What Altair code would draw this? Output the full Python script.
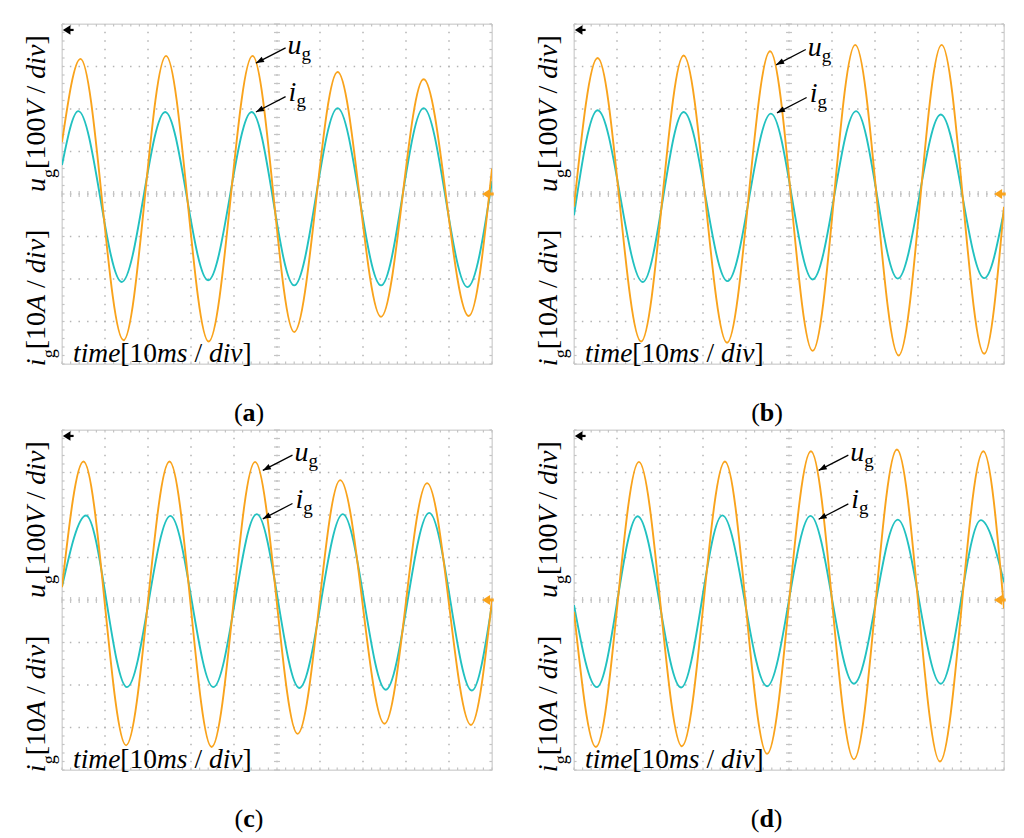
import altair as alt
import pandas as pd

FONT = "Liberation Serif, Times New Roman, serif"
ORANGE = "#F9A31C"
CYAN = "#22C1C0"
DOT = "#B4B4B4"
TICK = "#C4C4C4"
FRAME = "#D2D2D2"

W, H = 430, 340            # plot area of one panel (px)
NX, NY = 10, 8             # scope divisions
PXX, PXY = W / NX, H / NY  # px per division

# ---------------- traces: extrema (divisions) ----------------
# panel (a)
A_U_T = [0.0, 0.43, 1.43, 2.42, 3.41, 4.43, 5.40, 6.41, 7.42, 8.41, 9.46, 10.0]
A_U_V = [1.22, 3.18, -3.44, 3.25, -3.47, 3.25, -3.25, 2.87, -2.89, 2.70, -2.87, 0.6]
A_I_T = [0.0, 0.38, 1.39, 2.40, 3.40, 4.41, 5.40, 6.41, 7.42, 8.41, 9.43, 10.0]
A_I_V = [0.68, 1.95, -2.07, 1.93, -2.03, 1.93, -2.15, 2.02, -2.15, 2.02, -2.19, 0.3]
# panel (b)
B_U_T = [0.0, 0.55, 1.56, 2.55, 3.56, 4.56, 5.55, 6.54, 7.55, 8.55, 9.54, 10.0]
B_U_V = [-0.3, 3.20, -3.47, 3.26, -3.50, 3.36, -3.69, 3.51, -3.80, 3.51, -3.76, -0.3]
B_I_T = [0.0, 0.55, 1.60, 2.55, 3.57, 4.58, 5.55, 6.56, 7.53, 8.53, 9.54, 10.0]
B_I_V = [-0.5, 1.97, -2.07, 1.93, -2.05, 1.89, -2.01, 1.95, -1.99, 1.87, -1.98, -0.4]
# panel (c)
C_U_T = [0.0, 0.50, 1.49, 2.50, 3.48, 4.49, 5.48, 6.47, 7.50, 8.49, 9.51, 10.0]
C_U_V = [0.3, 3.26, -3.42, 3.26, -3.46, 3.25, -3.15, 2.82, -2.91, 2.75, -2.94, 0.0]
C_I_T = [0.0, 0.56, 1.51, 2.52, 3.52, 4.53, 5.52, 6.53, 7.53, 8.54, 9.53, 10.0]
C_I_V = [0.31, 1.99, -2.05, 1.98, -2.05, 2.02, -2.07, 2.02, -2.11, 2.05, -2.13, -0.1]
# panel (d)
D_U_T = [0.0, 0.51, 1.51, 2.51, 3.51, 4.49, 5.51, 6.51, 7.51, 8.51, 9.52, 10.0]
D_U_V = [-0.28, -3.46, 3.25, -3.44, 3.26, -3.62, 3.50, -3.75, 3.54, -3.80, 3.50, -0.2]
D_I_T = [0.0, 0.53, 1.48, 2.49, 3.45, 4.49, 5.50, 6.51, 7.53, 8.53, 9.46, 10.0]
D_I_V = [-0.12, -2.05, 1.97, -2.06, 1.99, -2.03, 1.98, -1.97, 1.89, -1.97, 1.88, 0.42]

# arrow tips of the u_g / i_g annotations (divisions)
A_TIPS = [(4.51, 3.08), (4.51, 1.93)]
B_TIPS = [(4.70, 3.04), (4.72, 1.91)]
C_TIPS = [(4.67, 3.05), (4.67, 1.91)]
D_TIPS = [(5.69, 3.05), (5.69, 1.90)]

CAPTION_X = {"a": 4.35, "b": 4.49, "c": 4.35, "d": 4.48}

GRID_X = [1, 2, 3, 4, 5, 6, 7, 8, 9]
GRID_Y = [-3, -2, -1, 0, 1, 2, 3]
MINOR_X = [k / 5 for k in range(0, 51)]
MINOR_Y = [k / 5 for k in range(-20, 21)]

# ---------------- scales ----------------
XS = alt.Scale(domain=[0, NX], nice=False, zero=False)
YS = alt.Scale(domain=[-NY / 2, NY / 2], nice=False, zero=False)


def X(f):
    return alt.X(f, type="quantitative", scale=XS, axis=None)


def Y(f):
    return alt.Y(f, type="quantitative", scale=YS, axis=None)


# ---------------- Times-compatible advance widths (1/1000 em) ----------------
REG = {" ": 250, "/": 278, "[": 333, "]": 333, "(": 333, ")": 333, "g": 500}
REG.update({d: 500 for d in "0123456789"})
ITA = {"u": 500, "i": 278, "V": 611, "A": 611, "d": 500, "v": 444,
       "t": 278, "m": 722, "e": 444, "s": 389}
BLD = {"a": 500, "b": 556, "c": 444, "d": 556}
TABLE = {"r": REG, "i": ITA, "b": BLD}


def width(s, style, size):
    return sum(TABLE[style].get(c, 500) for c in s) * size / 1000.0


def pieces_rows(pieces, x0, y0, angle):
    """pieces: (text, style, size, drop_px). Returns text rows in division units."""
    rows = []
    pos = 0.0
    for text, style, size, drop in pieces:
        w = width(text, style, size)
        if text.strip():
            if angle == 0:
                rows.append(dict(x=x0 + pos / PXX, y=y0 - drop / PXY, text=text,
                                 size=size, angle=0, style=style))
            else:
                rows.append(dict(x=x0 + drop / PXX, y=y0 + pos / PXY, text=text,
                                 size=size, angle=270, style=style))
        pos += w
    return rows


LS = 28      # label font size
SUB = 18     # subscript size in side labels
U_LABEL = [("u", "i", LS, 0), ("g", "r", SUB, 10), ("[100", "r", LS, 0), ("V", "i", LS, 0),
           (" ", "r", LS, 0), ("/", "r", LS, 0), (" ", "r", LS, 0), ("div", "i", LS, 0),
           ("]", "r", LS, 0)]
I_LABEL = [("i", "i", LS, 0), ("g", "r", SUB, 10), ("[10", "r", LS, 0), ("A", "i", LS, 0),
           (" ", "r", LS, 0), ("/", "r", LS, 0), (" ", "r", LS, 0), ("div", "i", LS, 0),
           ("]", "r", LS, 0)]
TS = 27.5
TIME_LABEL = [("time", "i", TS, 0), ("[10", "r", TS, 0), ("ms", "i", TS, 0), (" ", "r", TS, 0),
              ("/", "r", TS, 0), (" ", "r", TS, 0), ("div", "i", TS, 0), ("]", "r", TS, 0)]

ARROW = "M0,0L-2,-0.75L-2,0.75Z"      # annotation arrow head, tip at origin, pointing +x
MARKER = "M0,0L-1.6,-1L-1.6,1Z"       # scope marker head
TAIL_DX, TAIL_DY = 0.69, 0.36         # tail offset from tip (divisions)


def text_layers(rows):
    df = pd.DataFrame(rows)
    layers = []
    for style in ["r", "i", "b"]:
        sub = df[df["style"] == style]
        if sub.empty:
            continue
        kw = dict(font=FONT, align="left", baseline="alphabetic", color="black")
        if style == "i":
            kw["fontStyle"] = "italic"
        if style == "b":
            kw["fontWeight"] = "bold"
        layers.append(
            alt.Chart(sub).mark_text(**kw).encode(
                x=X("x"), y=Y("y"), text=alt.Text("text:N"),
                size=alt.Size("size:Q", scale=None),
                angle=alt.Angle("angle:Q", scale=None),
            )
        )
    return layers


def panel(letter, ut, uv, it, iv, tips):
    layers = []
    # dotted graticule
    layers.append(alt.Chart(pd.DataFrame({"x": GRID_X})).mark_rule(
        color=DOT, strokeWidth=1.5, strokeDash=[1.5, PXY / 5 - 1.5], strokeDashOffset=0.75
    ).encode(x=X("x")))
    layers.append(alt.Chart(pd.DataFrame({"y": GRID_Y})).mark_rule(
        color=DOT, strokeWidth=1.5, strokeDash=[1.5, PXX / 5 - 1.5], strokeDashOffset=0.75
    ).encode(y=Y("y")))
    # frame
    layers.append(alt.Chart(pd.DataFrame({"x": [0, NX]})).mark_rule(
        color=FRAME, strokeWidth=1).encode(x=X("x")))
    layers.append(alt.Chart(pd.DataFrame({"y": [-NY / 2, NY / 2]})).mark_rule(
        color=FRAME, strokeWidth=1).encode(y=Y("y")))
    # minor ticks on centre lines and frame
    ticks = []
    for m in MINOR_X:
        ticks.append(dict(x=m, x2=m, y=-0.07, y2=0.07))
        ticks.append(dict(x=m, x2=m, y=NY / 2 - 0.06, y2=NY / 2))
        ticks.append(dict(x=m, x2=m, y=-NY / 2, y2=-NY / 2 + 0.06))
    for m in MINOR_Y:
        ticks.append(dict(x=NX / 2 - 0.07, x2=NX / 2 + 0.07, y=m, y2=m))
        ticks.append(dict(x=0, x2=0.06, y=m, y2=m))
        ticks.append(dict(x=NX - 0.06, x2=NX, y=m, y2=m))
    layers.append(alt.Chart(pd.DataFrame(ticks)).mark_rule(
        color=TICK, strokeWidth=1.2).encode(
        x=X("x"), x2=alt.X2("x2"), y=Y("y"), y2=alt.Y2("y2")))

    # traces
    layers.append(alt.Chart(pd.DataFrame({"t": it, "v": iv})).mark_line(
        color=CYAN, strokeWidth=1.9, interpolate="monotone", clip=True
    ).encode(x=X("t"), y=Y("v"), order="t:Q"))
    layers.append(alt.Chart(pd.DataFrame({"t": ut, "v": uv})).mark_line(
        color=ORANGE, strokeWidth=1.9, interpolate="monotone", clip=True
    ).encode(x=X("t"), y=Y("v"), order="t:Q"))

    # scope markers: channel reference (black, top-left) and trigger level (orange, right)
    layers.append(alt.Chart(pd.DataFrame({"x": [0.12], "x2": [0.27], "y": [3.86]})).mark_rule(
        color="black", strokeWidth=2.2).encode(x=X("x"), x2=alt.X2("x2"), y=Y("y")))
    layers.append(alt.Chart(pd.DataFrame({"x": [0.02], "y": [3.86]})).mark_point(
        shape=MARKER, filled=True, color="black", opacity=1, size=90, angle=180, strokeWidth=0
    ).encode(x=X("x"), y=Y("y")))
    layers.append(alt.Chart(pd.DataFrame({"x": [9.88], "x2": [10.04], "y": [0.0]})).mark_rule(
        color=ORANGE, strokeWidth=3).encode(x=X("x"), x2=alt.X2("x2"), y=Y("y")))
    layers.append(alt.Chart(pd.DataFrame({"x": [9.77], "y": [0.0]})).mark_point(
        shape=MARKER, filled=True, color=ORANGE, opacity=1, size=100, angle=180, strokeWidth=0
    ).encode(x=X("x"), y=Y("y")))

    # annotation arrows
    arr = pd.DataFrame([dict(x=tx + TAIL_DX, y=ty + TAIL_DY, x2=tx, y2=ty) for tx, ty in tips])
    layers.append(alt.Chart(arr).mark_rule(color="black", strokeWidth=1.3).encode(
        x=X("x"), x2=alt.X2("x2"), y=Y("y"), y2=alt.Y2("y2")))
    layers.append(alt.Chart(pd.DataFrame([dict(x=tx, y=ty) for tx, ty in tips])).mark_point(
        shape=ARROW, filled=True, color="black", opacity=1, size=64, angle=152.7, strokeWidth=0
    ).encode(x=X("x"), y=Y("y")))

    rows = []
    (utx, uty), (itx, ity) = tips
    rows += pieces_rows([("u", "i", 28, 0), ("g", "r", 19, 6)],
                        utx + TAIL_DX + 2 / PXX, uty + TAIL_DY - 6 / PXY, 0)
    rows += pieces_rows([("i", "i", 28, 0), ("g", "r", 19, 6)],
                        itx + TAIL_DX + 3 / PXX, ity + TAIL_DY - 4 / PXY, 0)
    # side labels (rotated) and time label
    rows += pieces_rows(U_LABEL, -17 / PXX, 0.05, 270)
    rows += pieces_rows(I_LABEL, -17 / PXX, -4.05, 270)
    rows += pieces_rows(TIME_LABEL, 11 / PXX, -3.95, 0)
    # caption (a)/(b)/...
    cap = [("(", "r", 26, 0), (letter, "b", 26, 0), (")", "r", 26, 0)]
    cw = sum(width(t, s, z) for t, s, z, _ in cap)
    rows += pieces_rows(cap, CAPTION_X[letter] - cw / 2 / PXX, -5.34, 0)
    layers += text_layers(rows)

    return alt.layer(*layers).properties(width=W, height=H)


pa = panel("a", A_U_T, A_U_V, A_I_T, A_I_V, A_TIPS)
pb = panel("b", B_U_T, B_U_V, B_I_T, B_I_V, B_TIPS)
pc = panel("c", C_U_T, C_U_V, C_I_T, C_I_V, C_TIPS)
pd_ = panel("d", D_U_T, D_U_V, D_I_T, D_I_V, D_TIPS)

chart = alt.concat(
    pa, pb, pc, pd_, columns=2, spacing={"row": 66, "column": 82}, bounds="flush"
).properties(
    padding={"left": 14, "top": 14, "right": 4, "bottom": 0}
).configure_view(stroke=None).configure(background="white")

chart.save("out.html", embed_options={"renderer": "svg", "actions": False})
